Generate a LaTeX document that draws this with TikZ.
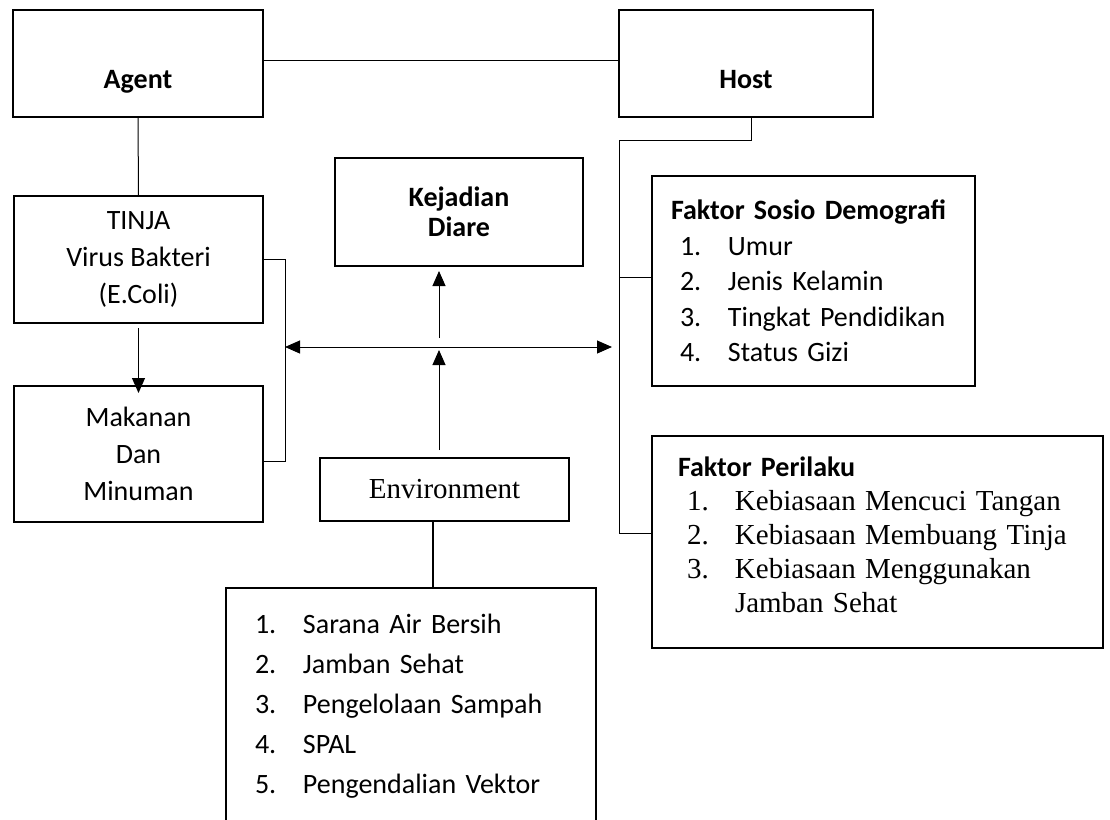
\documentclass[tikz,border=0pt]{standalone}
\usepackage{fontspec}
\setmainfont{Carlito}
\newfontfamily\tnr{Liberation Serif}
\usetikzlibrary{arrows.meta,positioning}

\newcommand{\srf}{\tnr\fontsize{14.5}{17}\selectfont}
\newcommand{\itm}[2]{\hspace*{4.5pt}\makebox[24pt][l]{#1}\mbox{#2}}

\begin{document}
\begin{tikzpicture}[x=0.5pt,y=-0.5pt,
  font=\fontsize{14}{18.5}\selectfont,
  box/.style={draw,line width=1pt,inner sep=2pt,align=center},
  lnk/.style={line width=0.5pt},
  arr/.style={lnk,-{Triangle[length=7.5pt,width=6.5pt]}}]
\useasboundingbox (0,0) rectangle (1110,820);

% agent, host
\node[box,minimum width=125pt,minimum height=53.5pt,text height=24.5pt,text depth=0pt,
  font=\fontsize{14}{17}\selectfont\bfseries] (agent) at (138,63.5) {Agent};
\node[box,minimum width=127pt,minimum height=53.5pt,text height=24.5pt,text depth=0pt,
  font=\fontsize{14}{17}\selectfont\bfseries] (host) at (746,63.5) {Host};

% left column
\node[box,minimum width=124.5pt,minimum height=63.5pt] (tinja) at (138.5,259.5)
  {TINJA\\Virus Bakteri\\(E.Coli)};
\node[box,minimum width=124.5pt,minimum height=68pt] (makanan) at (138.5,454)
  {Makanan\\Dan\\Minuman};

% middle
\node[box,minimum width=124pt,minimum height=54pt,
  font=\fontsize{14}{15}\selectfont\bfseries] (kejadian) at (459,212) {Kejadian\\Diare};
\node[box,minimum width=124.5pt,minimum height=31.5pt,font=\srf] (env) at (444.5,489.5)
  {Environment};
\node[box,align=left,text width=156pt,inner xsep=14.5pt,minimum height=118pt,
  font=\fontsize{14}{20}\selectfont] (lst) at (411,706) {%
  \makebox[24pt][l]{1.}Sarana Air Bersih\\
  \makebox[24pt][l]{2.}Jamban Sehat\\
  \makebox[24pt][l]{3.}Pengelolaan Sampah\\
  \makebox[24pt][l]{4.}SPAL\\
  \makebox[24pt][l]{5.}Pengendalian Vektor};

% right column
\node[box,align=left,text width=142.5pt,inner xsep=9.5pt,minimum height=105pt,
  font=\fontsize{14}{17.75}\selectfont] (sosio) at (813.5,281) {%
  \mbox{\bfseries Faktor Sosio Demografi}\\
  \itm{1.}{Umur}\\
  \itm{2.}{Jenis Kelamin}\\
  \itm{3.}{Tingkat Pendidikan}\\
  \itm{4.}{Status Gizi}};
\node[box,align=left,text width=199.5pt,inner xsep=13pt,minimum height=106pt,
  font=\fontsize{14}{17}\selectfont] (perilaku) at (877.5,542) {%
  \mbox{\bfseries Faktor Perilaku}\\
  \itm{\srf 1.}{\srf Kebiasaan Mencuci Tangan}\\
  \itm{\srf 2.}{\srf Kebiasaan Membuang Tinja}\\
  \itm{\srf 3.}{\srf Kebiasaan Menggunakan}\\
  \hspace*{28.5pt}\mbox{\srf Jamban Sehat}\\[-10pt]\mbox{}};

% connectors
\draw[lnk] ([yshift=1.75pt]agent.east) -- ([yshift=1.75pt]host.west);
\draw[lnk] (agent.south) -- (tinja.north);
\draw[arr,shorten <=2pt,shorten >=-4pt] (tinja.south) -- (makanan.north);
\draw[lnk] (tinja.east) -- ++(10.5pt,0) |- ([yshift=-3.5pt]makanan.east);

\coordinate (hl) at (285,347);
\coordinate (hr) at (612,347);
\coordinate (mid) at (439,347);
\draw[lnk,{Triangle[length=7.5pt,width=6.5pt]}-{Triangle[length=7.5pt,width=6.5pt]}] (hl) -- (hr);
\draw[arr,shorten >=2pt] ([yshift=4.5pt]mid) -- (mid |- kejadian.south);
\draw[arr,shorten <=3.5pt,shorten >=1.5pt] (mid |- env.north) -- (mid);

\coordinate (envb) at ([xshift=-5.75pt]env.south);
\draw[line width=1pt] (envb) -- (envb |- lst.north);

\coordinate (hs) at ([xshift=2.5pt]host.south);
\coordinate (hk) at (619,140);
\coordinate (sw) at ([yshift=2pt]sosio.west);
\draw[lnk] (hs) |- (hk) |- ([yshift=4.5pt]perilaku.west);
\draw[lnk] (hk |- sw) -- (sw);
\end{tikzpicture}
\end{document}
